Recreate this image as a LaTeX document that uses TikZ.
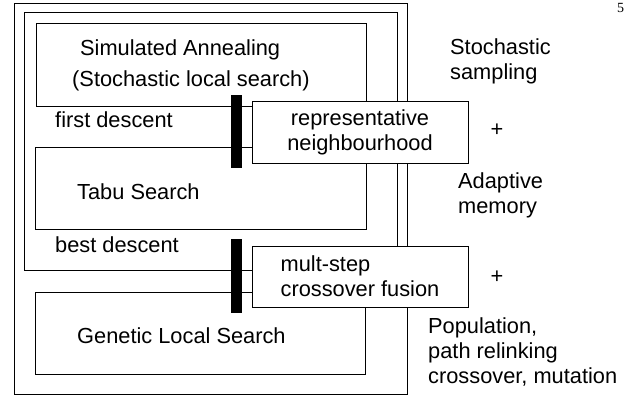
\documentclass[tikz,border=0pt]{standalone}
\usepackage{fontspec}
\setmainfont{Liberation Sans}
\newfontfamily\pagefont{Liberation Serif}
\usetikzlibrary{positioning}
\begin{document}
\begin{tikzpicture}[x=1pt,y=-1pt,
        every node/.style={font=\fontsize{21.8}{25}\selectfont},
        frame/.style={draw, line width=1pt, inner sep=0pt},
        patch/.style={draw, line width=1pt, fill=white, inner sep=0pt, align=center},
        bar/.style={fill=black, inner sep=0pt, minimum width=11pt},
        lbl/.style={inner sep=0pt, anchor=base west, align=left}]
    \useasboundingbox (0,0) rectangle (637,399);
    % nested frames
    \node[frame, minimum width=393pt, minimum height=391pt] (outer) at (210.5,198.5) {};
    \node[frame, minimum width=373pt, minimum height=258pt] (middle) at (210.5,141) {};
    \node[frame, minimum width=330pt, minimum height=83pt] (sa) at (201,64.5) {};
    \node[frame, minimum width=331pt, minimum height=82pt] (tabu) at (200.5,188) {};
    \node[frame, minimum width=330pt, minimum height=82pt] (gls) at (200,333) {};
    % hybrid patches
    \node[patch, minimum width=216pt, minimum height=62pt] (rep) at (360,132) {representative\\neighbourhood};
    \node[patch, minimum width=216pt, minimum height=61pt, align=left] (fus) at (360,276.5) {mult-step\\crossover fusion};
    \node[bar, minimum height=73pt] (bar1) at (236.5,131.5) {};
    \node[bar, minimum height=74pt] (bar2) at (236.5,276) {};
    % texts (base of a multi-line label = its last line)
    \node[lbl] (satxt) at (80,55) {Simulated Annealing};
    \node[lbl] (sasub) at (72,86) {(Stochastic local search)};
    \node[lbl] (first) at (55,127) {first descent};
    \node[lbl] (tabutxt) at (77,199) {Tabu Search};
    \node[lbl] (best) at (55,252) {best descent};
    \node[lbl] (glstxt) at (77,343) {Genetic Local Search};
    \node[lbl] (stoch) at (450,79) {Stochastic\\sampling};
    \node (plusa) at (497,130) {+};
    \node[lbl] (adapt) at (458,213) {Adaptive\\memory};
    \node (plusb) at (497,277) {+};
    \node[lbl] (pop) at (428,383) {Population,\\path relinking\\crossover, mutation};
    \node[lbl, font=\pagefont\fontsize{14}{16}\selectfont] (page) at (617,12) {5};
\end{tikzpicture}
\end{document}
